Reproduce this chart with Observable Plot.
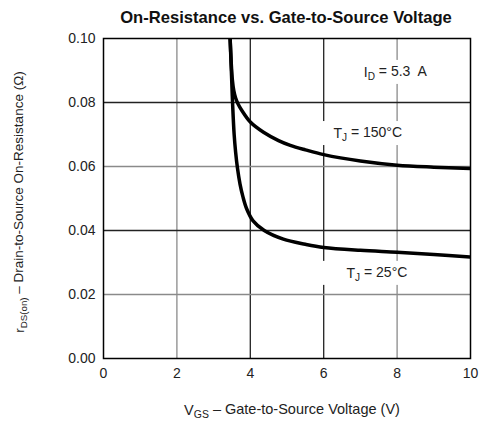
<!DOCTYPE html>
<html><head><meta charset="utf-8">
<script src="https://cdn.jsdelivr.net/npm/d3@7"></script>
<script src="https://cdn.jsdelivr.net/npm/@observablehq/plot@0.6"></script>
<style>
body{margin:0;background:#fff;font-family:"Liberation Sans",Arial,sans-serif;}
#title{height:30px;line-height:35px;width:481px;text-align:center;font-weight:bold;font-size:16.6px;padding-left:91px;box-sizing:border-box;color:#111;white-space:nowrap;}
#chart svg{display:block;}
</style></head><body>
<div id="title"></div>
<div id="chart"></div>
<script>
const title = "On-Resistance vs. Gate-to-Source Voltage";

// T_J = 150°C curve
const vgs150 = [3.45, 3.48, 3.51, 3.55, 3.60, 3.66, 3.77, 4.00, 4.36, 4.77, 5.09, 5.50, 6.00, 7.00, 8.00, 9.00, 10.0];
const rds150 = [0.100, 0.0925, 0.0872, 0.0837, 0.0814, 0.0797, 0.0775, 0.0739, 0.0707, 0.0681, 0.0666, 0.0652, 0.0637, 0.0617, 0.0604, 0.0598, 0.0594];

// T_J = 25°C curve
const vgs25 = [3.45, 3.49, 3.52, 3.56, 3.60, 3.65, 3.72, 3.80, 3.90, 4.07, 4.38, 4.90, 5.50, 6.00, 7.00, 8.00, 9.00, 10.0];
const rds25 = [0.100, 0.088, 0.079, 0.070, 0.0645, 0.0595, 0.0545, 0.0505, 0.0468, 0.0431, 0.0400, 0.0373, 0.0357, 0.0347, 0.0338, 0.0332, 0.0325, 0.0317];

const xTicks = [0, 2, 4, 6, 8, 10];
const yTicks = [0, 0.02, 0.04, 0.06, 0.08, 0.10];

const annX = [7.95, 7.2, 7.45];
const annY = [0.0894, 0.0703, 0.0266];
const annMain = ["I", "T", "T"];
const annSub = ["D", "J", "J"];
const annRest = [" = 5.3  A", " = 150°C", " = 25°C"];

const xLabel = ["V", "GS", " – Gate-to-Source Voltage (V)"];
const yLabel = ["r", "DS(on)", " – Drain-to-Source On-Resistance (Ω)"];

document.getElementById("title").textContent = title;

const series = [
  ...vgs150.map((v, i) => ({v, r: rds150[i], s: "150"})),
  ...vgs25.map((v, i) => ({v, r: rds25[i], s: "25"}))
];
const ann = annX.map((x, i) => ({x, y: annY[i], text: annMain[i] + annSub[i] + annRest[i]}));

const dark = [4, 6], darkY = [0.04, 0.08];
const chart = Plot.plot({
  width: 481, height: 393,
  marginLeft: 103, marginRight: 11, marginTop: 8, marginBottom: 65,
  x: {domain: [0, 10], ticks: xTicks, tickSize: 0, tickPadding: 10, label: null, tickFormat: d => String(d)},
  y: {domain: [0, 0.1], ticks: yTicks, tickSize: 0, tickPadding: 8, label: null, tickFormat: d3.format(".2f")},
  style: {fontSize: "14px", fontFamily: "'Liberation Sans', Arial, sans-serif", color: "#222", background: "white"},
  marks: [
    Plot.ruleX(xTicks.filter(d => d > 0 && d < 10 && !dark.includes(d)), {stroke: "#8a8a8a", strokeWidth: 1.3}),
    Plot.ruleX(xTicks.filter(d => dark.includes(d)), {stroke: "#222", strokeWidth: 1.3}),
    Plot.ruleY(yTicks.filter(d => d > 0 && d < 0.1 && !darkY.some(v => Math.abs(v - d) < 1e-9)), {stroke: "#8a8a8a", strokeWidth: 1.3}),
    Plot.ruleY(yTicks.filter(d => darkY.some(v => Math.abs(v - d) < 1e-9)), {stroke: "#222", strokeWidth: 1.3}),
    Plot.rect(ann, {x1: "x", x2: "x", y1: "y", y2: "y", fill: "white", insetLeft: -56, insetRight: -40, insetTop: -12, insetBottom: -12}),
    Plot.line(series, {x: "v", y: "r", z: "s", stroke: "black", strokeWidth: 3.5, curve: "catmull-rom", clip: true}),
    Plot.text(ann, {x: "x", y: "y", text: "text", fontSize: 14, fill: "#222"}),
    Plot.frame({stroke: "black", strokeWidth: 1.5})
  ]
});
document.getElementById("chart").appendChild(chart);

const svg = d3.select(chart);
function subText(sel, main, sub, rest) {
  sel.text(null);
  sel.append("tspan").text(main);
  sel.append("tspan").attr("font-size", "72%").attr("dy", "0.3em").text(sub);
  sel.append("tspan").attr("dy", "-0.3em").text(rest);
}
svg.selectAll('g[aria-label="text"] text').each(function(d, i) {
  subText(d3.select(this), annMain[i], annSub[i], annRest[i]);
});
const xl = svg.append("text").attr("x", 292).attr("y", 385).attr("text-anchor", "middle")
  .attr("font-size", 14.5).attr("fill", "#222");
subText(xl, ...xLabel);
const yl = svg.append("text").attr("transform", "translate(24,172) rotate(-90)").attr("text-anchor", "middle")
  .attr("font-size", 13.5).attr("fill", "#222");
subText(yl, ...yLabel);
</script>
</body></html>
